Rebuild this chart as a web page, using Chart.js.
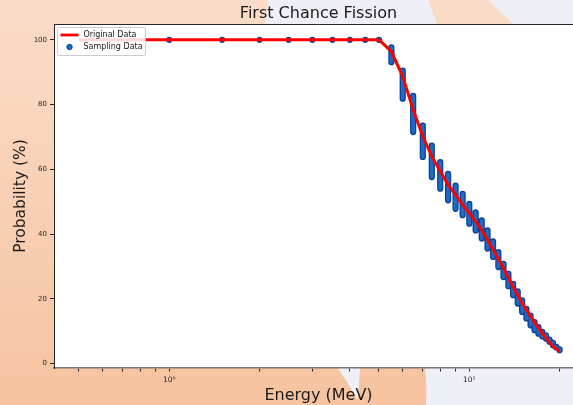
<!DOCTYPE html>
<html>
<head>
<meta charset="utf-8">
<script src="https://cdn.jsdelivr.net/npm/chart.js@4.4.0/dist/chart.umd.min.js"></script>
<style>
html, body { margin: 0; padding: 0; overflow: hidden; width: 573px; height: 405px; }
#wrap { position: absolute; left: 0; top: 0; width: 637px; height: 405px; }
</style>
</head>
<body>
<div id="wrap"><canvas id="myChart" width="637" height="405"></canvas></div>
<script>
// sampled energies (MeV) and the spread of sampled probabilities at each one
const sample_energy = [1.0, 1.5, 2.0, 2.5, 3.0, 3.5, 4.0, 4.5, 5.0, 5.5, 6.0, 6.5, 7.0, 7.5, 8.0, 8.5, 9.0, 9.5, 10.0,
    10.5, 11.0, 11.5, 12.0, 12.5, 13.0, 13.5, 14.0, 14.5, 15.0, 15.5, 16.0, 16.5, 17.0, 17.5, 18.0, 18.5, 19.0, 19.5, 20.0];
const sample_max = [100, 100, 100, 100, 100, 100, 100, 100, 100,
    97.7, 90.5, 82.7, 73.5, 67.3, 62.2, 58.6, 55.0, 52.4, 49.3, 46.7, 44.2, 41.1, 37.7, 34.4, 30.8,
    27.7, 24.6, 22.3, 19.5, 16.9, 14.8, 12.8, 11.2, 9.8, 8.7, 7.4, 6.4, 5.1, 4.4];
const sample_min = [100, 100, 100, 100, 100, 100, 100, 100, 100,
    93.1, 81.8, 71.5, 63.8, 57.6, 54.0, 50.4, 47.8, 45.8, 43.2, 41.1, 38.6, 35.5, 32.9, 29.8, 26.7,
    23.9, 21.1, 18.5, 15.9, 13.9, 11.8, 10.3, 9.2, 8.4, 7.7, 6.7, 5.6, 4.9, 4.1];

// original curve
const orig_energy = [0.5, 1.0, 1.5, 2.0, 2.5, 3.0, 3.5, 4.0, 4.5, 5.0, 5.5, 6.0, 6.5, 7.0, 7.5, 8.0, 8.5, 9.0, 9.5, 10.0,
    10.5, 11.0, 11.5, 12.0, 12.5, 13.0, 13.5, 14.0, 14.5, 15.0, 15.5, 16.0, 16.5, 17.0, 17.5, 18.0, 18.5, 19.0, 19.5, 20.0];
const orig_prob = [100, 100, 100, 100, 100, 100, 100, 100, 100, 100,
    96.4, 88.7, 78.4, 70.2, 64.0, 59.4, 55.2, 52.2, 49.1, 46.5, 43.9, 41.2, 38.2, 35.2, 32.3,
    29.5, 26.5, 23.7, 21.1, 18.7, 16.6, 14.6, 12.7, 11.0, 9.4, 7.9, 6.6, 5.3, 4.5, 3.8];

// ticks
const x_tick_values = [0.5, 0.6, 0.7, 0.8, 0.9, 1, 2, 3, 4, 5, 6, 7, 8, 9, 10, 20];
const x_tick_labels = {1: '10\u2070', 10: '10\u00b9'};
const y_tick_values = [0, 20, 40, 60, 80, 100];

const FONT = 'DejaVu Sans';
const INK = '#262626';

// build datasets
let orig_points = orig_energy.map((e, i) => ({x: e, y: orig_prob[i]}));
let sample_points = [];
sample_energy.forEach((e, i) => {
    sample_points.push({x: e, y: sample_max[i]});
    sample_points.push({x: e, y: sample_min[i]});
    sample_points.push({x: e, y: null});
});

// figure background, plot face and top spine
const backdrop = {
    id: 'backdrop',
    beforeDraw(chart) {
        const c = chart.ctx, w = chart.width, h = chart.height, a = chart.chartArea;
        c.save();
        let g = c.createLinearGradient(0, 0, 0, h);
        g.addColorStop(0, '#fadcc8');
        g.addColorStop(1, '#f7c3a0');
        c.fillStyle = g;
        c.fillRect(0, 0, w, h);
        c.fillStyle = '#efeff7';
        // top band
        c.beginPath();
        c.moveTo(268, 0); c.lineTo(428, 0); c.lineTo(437, a.top); c.lineTo(265, a.top); c.closePath(); c.fill();
        c.beginPath();
        c.moveTo(488, 0); c.lineTo(w, 0); c.lineTo(w, a.top); c.lineTo(513, a.top); c.closePath(); c.fill();
        // bottom band
        c.beginPath();
        c.moveTo(338, a.bottom); c.lineTo(360, a.bottom); c.lineTo(358, 400); c.closePath(); c.fill();
        c.beginPath();
        c.moveTo(425, a.bottom); c.lineTo(w, a.bottom); c.lineTo(w, h); c.lineTo(426, h);
        c.quadraticCurveTo(427, 385, 425, a.bottom); c.closePath(); c.fill();
        c.fillStyle = '#ffffff';
        c.fillRect(a.left, a.top, a.right - a.left, a.bottom - a.top);
        c.restore();
    },
    afterDraw(chart) {
        const c = chart.ctx, a = chart.chartArea;
        c.save();
        c.strokeStyle = INK;
        c.lineWidth = 1;
        c.beginPath();
        c.moveTo(a.left, a.top + 0.5);
        c.lineTo(a.right, a.top + 0.5);
        c.stroke();

        // legend in upper left corner
        const ds = chart.data.datasets;
        const lx = a.left + 3.5, ly = a.top + 3.5;
        c.fillStyle = 'rgba(255,255,255,0.85)';
        c.strokeStyle = '#cccccc';
        c.beginPath();
        c.roundRect(lx, ly, 88, 28, 2);
        c.fill();
        c.stroke();
        c.strokeStyle = ds[0].borderColor;
        c.lineWidth = 2.8;
        c.beginPath();
        c.moveTo(lx + 3, ly + 7.5);
        c.lineTo(lx + 21, ly + 7.5);
        c.stroke();
        c.beginPath();
        c.arc(lx + 12, ly + 19.5, 2.7, 0, Math.PI * 2);
        c.fillStyle = ds[1].borderColor;
        c.fill();
        c.strokeStyle = ds[2].borderColor;
        c.lineWidth = 1;
        c.stroke();
        c.fillStyle = '#1a1a1a';
        c.font = '8px "' + FONT + '"';
        c.textBaseline = 'middle';
        c.fillText(ds[0].label, lx + 26, ly + 7.5);
        c.fillText(ds[2].label, lx + 26, ly + 19.5);
        c.restore();
    }
};

const ctx = document.getElementById('myChart');
const myChart = new Chart(ctx, {
    type: 'line',
    data: {
        datasets: [{
            label: 'Original Data',
            data: orig_points,
            borderColor: '#ff0000',
            borderWidth: 3,
            pointRadius: 0,
            tension: 0
        }, {
            label: 'inner',
            data: sample_points,
            borderColor: '#1c6cc6',
            borderWidth: 3.6,
            borderCapStyle: 'round',
            pointRadius: 0,
            spanGaps: false
        }, {
            label: 'Sampling Data',
            data: sample_points,
            borderColor: '#0b4199',
            borderWidth: 6.2,
            borderCapStyle: 'round',
            pointRadius: 0,
            spanGaps: false
        }]
    },
    options: {
        responsive: false,
        animation: false,
        layout: { padding: 0 },
        plugins: {
            legend: { display: false },
            tooltip: { enabled: false },
            title: {
                display: true,
                text: 'First Chance Fission',
                color: '#1a1a1a',
                font: { family: FONT, size: 16, weight: 'normal' },
                padding: { top: 4, bottom: 0.8 }
            }
        },
        scales: {
            x: {
                type: 'logarithmic',
                min: 0.413,
                max: 23.93,
                afterBuildTicks: (scale) => { scale.ticks = x_tick_values.map(v => ({value: v})); },
                afterFit: (scale) => { scale.height = 37; },
                ticks: {
                    autoSkip: false,
                    maxRotation: 0,
                    padding: 4,
                    color: INK,
                    font: { family: FONT, size: 7.5 },
                    callback: (v) => x_tick_labels[v] || ''
                },
                grid: { drawOnChartArea: false, tickLength: 3.5, tickColor: INK },
                border: { color: '#777777', width: 1.6 },
                title: {
                    display: true,
                    text: 'Energy (MeV)',
                    color: '#1a1a1a',
                    font: { family: FONT, size: 16 },
                    padding: { top: 0, bottom: 0 }
                }
            },
            y: {
                min: -1.4,
                max: 104.9,
                afterBuildTicks: (scale) => { scale.ticks = y_tick_values.map(v => ({value: v})); },
                afterFit: (scale) => { scale.width = 54; },
                ticks: {
                    padding: 3,
                    color: INK,
                    font: { family: FONT, size: 7 }
                },
                grid: { drawOnChartArea: false, tickLength: 4, tickColor: INK },
                border: { color: INK, width: 1 },
                title: {
                    display: true,
                    text: 'Probability (%)',
                    color: '#1a1a1a',
                    font: { family: FONT, size: 15.5 },
                    padding: { top: 12, bottom: 0 }
                }
            },
            // empty right-hand axis: keeps the plot's right edge beyond the window
            yRight: {
                position: 'right',
                display: true,
                min: 0,
                max: 1,
                afterFit: (scale) => { scale.width = 54; },
                ticks: { display: false },
                grid: { display: false },
                border: { display: false }
            }
        }
    },
    plugins: [backdrop]
});
</script>
</body>
</html>
